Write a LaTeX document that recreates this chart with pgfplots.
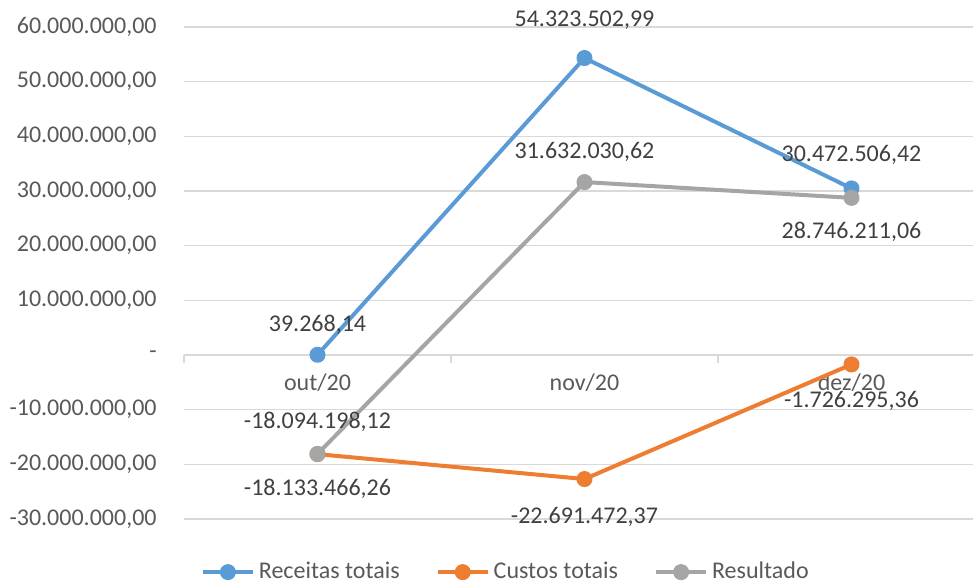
\documentclass[border=0pt]{standalone}
\usepackage{pgfplots}
\pgfplotsset{compat=1.18}
\usepackage{pgfplotstable}
\usepackage{fontspec}
\setmainfont{Carlito}
\definecolor{cblue}{HTML}{5B9BD5}
\definecolor{corange}{HTML}{ED7D31}
\definecolor{cgray}{HTML}{A5A5A5}
\definecolor{gridc}{HTML}{D9D9D9}
\definecolor{ticktxt}{HTML}{595959}
\definecolor{lbltxt}{HTML}{404040}

\pgfplotstableread{
x y lbl dy
0 39268.14 39.268,14 15
1 54323502.99 54.323.502,99 19
2 30472506.42 30.472.506,42 16.5
}\receitas
\pgfplotstableread{
x y lbl dy
0 -18133466.26 -18.133.466,26 -17.5
1 -22691472.37 -22.691.472,37 -19
2 -1726295.36 -1.726.295,36 -18
}\custos
\pgfplotstableread{
x y lbl dy
0 -18094198.12 -18.094.198,12 16
1 31632030.62 31.632.030,62 15
2 28746211.06 28.746.211,06 -17
}\resultado

\begin{document}
\begin{tikzpicture}
\begin{axis}[
  scale only axis, width=400.5pt, height=246pt,
  xmin=-0.5, xmax=2.5, ymin=-30000000, ymax=60000000,
  axis x line=middle, axis y line=left,
  x axis line style={draw=gridc, line width=0.75pt, -},
  y axis line style={draw=none},
  xtick={0,1,2}, xticklabels={out/20,nov/20,dez/20},
  ytick={-30000000,-20000000,-10000000,0,10000000,20000000,30000000,40000000,50000000,60000000},
  yticklabels={{-30.000.000,00},{-20.000.000,00},{-10.000.000,00},{-},{10.000.000,00},{20.000.000,00},{30.000.000,00},{40.000.000,00},{50.000.000,00},{60.000.000,00}},
  scaled y ticks=false,
  major tick length=0pt,
  ymajorgrids, grid style={draw=gridc, line width=0.75pt},
  tick label style={font=\fontsize{12}{14}\selectfont, text=ticktxt},
  yticklabel style={anchor=east, inner sep=0pt, xshift=-13.5pt},
  xticklabel style={anchor=center, inner sep=0pt, yshift=-14pt},
  clip=false,
  legend columns=3,
  legend style={at={(0.403,-0.108)}, anchor=center, draw=none, fill=none,
    font=\fontsize{12}{14}\selectfont, text=ticktxt,
    /tikz/every even column/.append style={column sep=16pt}},
  legend image code/.code={\draw[mark repeat=2, mark phase=2] plot coordinates {(0pt,0pt) (12.5pt,0pt) (25pt,0pt)};},
  every axis plot/.append style={line width=2pt, mark=*, mark size=3pt, line join=round,
    nodes near coords={\pgfplotspointmeta}, point meta=explicit symbolic,
    visualization depends on={\thisrow{dy} \as \dy},
    every node near coord/.append style={anchor=center, yshift=\dy pt, inner sep=0pt,
      font=\fontsize{12}{14}\selectfont, text=lbltxt}},
]
\coordinate (sw) at (rel axis cs:0,0);
\draw[gridc, line width=0.75pt] (axis cs:-0.5,0) -- ([yshift=-4pt]axis cs:-0.5,0);
\draw[gridc, line width=0.75pt] (axis cs:0.5,0) -- ([yshift=-4pt]axis cs:0.5,0);
\draw[gridc, line width=0.75pt] (axis cs:1.5,0) -- ([yshift=-4pt]axis cs:1.5,0);
\draw[gridc, line width=0.75pt] (axis cs:2.5,0) -- ([yshift=-4pt]axis cs:2.5,0);
\addplot[cblue, mark options={fill=cblue, draw=cblue}] table[x=x, y=y, meta=lbl]{\receitas};
\addlegendentry{Receitas totais}
\addplot[corange, mark options={fill=corange, draw=corange}] table[x=x, y=y, meta=lbl]{\custos};
\addlegendentry{Custos totais}
\addplot[cgray, mark options={fill=cgray, draw=cgray}] table[x=x, y=y, meta=lbl]{\resultado};
\addlegendentry{Resultado}
\end{axis}
\pgfresetboundingbox
\path[use as bounding box] (sw) ++(-92pt,-32pt) rectangle ++(486.5pt,291.5pt);
\end{tikzpicture}
\end{document}
